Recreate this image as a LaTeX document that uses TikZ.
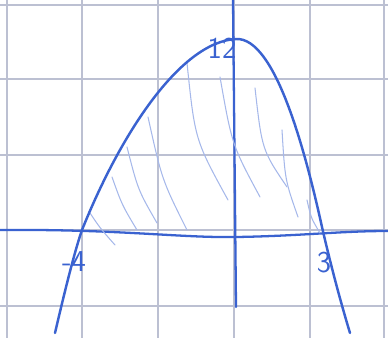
\documentclass[tikz,border=0pt]{standalone}
\usepackage{tikz}
\usetikzlibrary{positioning}

\begin{document}
\begin{tikzpicture}[
    x=0.02cm, y=-0.02cm,
    gridline/.style={draw=paper, line width=0.6pt},
    axisline/.style={draw=pen, line width=1.3pt, line cap=round},
    curveline/.style={draw=pen, line width=1.4pt, line cap=round},
    hatch/.style={draw=pen!45, line width=0.6pt, line cap=round},
    penlabel/.style={text=pen, font=\sffamily\LARGE}
]
\definecolor{pen}{RGB}{58,98,208}
\definecolor{paper}{RGB}{188,192,210}
\useasboundingbox (0,0) rectangle (388,338);

% --- Cuadrícula del papel ---
\foreach \gx in {7,82,158,234,310,384}
  \draw[gridline] (\gx,0) -- (\gx,338);
\foreach \gy in {5,79,155,230,306}
  \draw[gridline] (0,\gy) -- (388,\gy);

% --- Ejes ---
\draw[axisline] (0,230) .. controls (120,229) and (180,238) .. (236,237)
                        .. controls (300,236) and (340,231) .. (388,231);
\draw[axisline] (233,0) -- (236,307);

% --- Rayado bajo la parábola ---
\draw[hatch] (90,213) .. controls (100,228) .. (115,245);
\draw[hatch] (112,177) .. controls (122,205) .. (137,230);
\draw[hatch] (127,147) .. controls (138,190) .. (157,223);
\draw[hatch] (148,117) .. controls (162,180) .. (187,230);
\draw[hatch] (187,63) .. controls (195,140) .. (228,200);
\draw[hatch] (220,77) .. controls (232,145) .. (260,197);
\draw[hatch] (255,88) .. controls (262,150) .. (287,187);
\draw[hatch] (282,130) .. controls (285,180) .. (298,217);
\draw[hatch] (307,200) .. controls (311,218) .. (320,233);

% --- Parábola ---
\draw[curveline] (55,333) .. controls (65,290) and (75,250) .. (82,230)
                 .. controls (120,135) and (180,42) .. (236,39)
                 .. controls (275,37) and (305,150) .. (322,227)
                 .. controls (330,262) and (340,300) .. (350,333);

% --- Marcas ---
\node[penlabel] (top) at (222,48) {12};
\node[penlabel] (left) at (74,262) {-4};
\node[penlabel] (right) at (324,263) {3};

\end{tikzpicture}
\end{document}
